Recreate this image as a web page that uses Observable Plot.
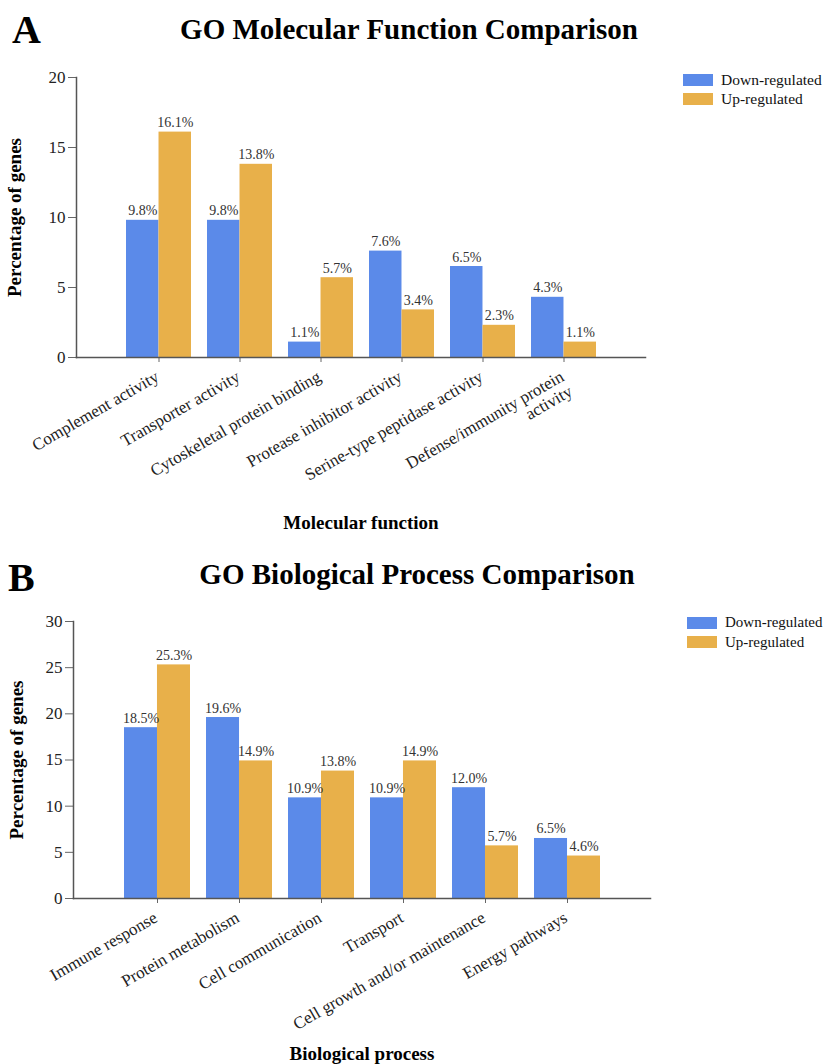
<!DOCTYPE html>
<html><head><meta charset="utf-8">
<script src="https://cdn.jsdelivr.net/npm/d3@7"></script>
<script src="https://cdn.jsdelivr.net/npm/@observablehq/plot@0.6"></script>
<style>
body{margin:0;background:#fff;font-family:"Liberation Serif","Times New Roman",serif;}
#page{position:relative;width:827px;height:1064px;overflow:hidden;background:#fff;}
.letter{position:absolute;font-weight:bold;font-size:40px;line-height:40px;color:#000;}
.title{position:absolute;font-weight:bold;font-size:29px;line-height:29px;color:#000;white-space:nowrap;transform:translateX(-50%);}
.legend{position:absolute;color:#111;white-space:nowrap;}
.legend .row{display:flex;align-items:center;height:19.5px;}
.legend .sw{width:30px;height:12px;margin-right:8px;flex:none;}
.chart{position:absolute;left:0;}
</style>
</head><body>
<div id="page"></div>
<script>
// ---- data ----
const seriesNames = ["Down-regulated", "Up-regulated"];
const seriesColors = ["#5b8ae9", "#e8b04a"];

const catsA = ["Complement activity", "Transporter activity", "Cytoskeletal protein binding", "Protease inhibitor activity", "Serine-type peptidase activity", "Defense/immunity protein activity"];
const tickLabelsA = ["Complement activity", "Transporter activity", "Cytoskeletal protein binding", "Protease inhibitor activity", "Serine-type peptidase activity", "Defense/immunity protein\nactivity"];
const downA = [9.8, 9.8, 1.1, 7.6, 6.5, 4.3];
const upA = [16.1, 13.8, 5.7, 3.4, 2.3, 1.1];
const yTicksA = [0, 5, 10, 15, 20];

const catsB = ["Immune response", "Protein metabolism", "Cell communication", "Transport", "Cell growth and/or maintenance", "Energy pathways"];
const tickLabelsB = ["Immune response", "Protein metabolism", "Cell communication", "Transport", "Cell growth and/or maintenance", "Energy pathways"];
const downB = [18.5, 19.6, 10.9, 10.9, 12.0, 6.5];
const upB = [25.3, 14.9, 13.8, 14.9, 5.7, 4.6];
const yTicksB = [0, 5, 10, 15, 20, 25, 30];

const FONT = '"Liberation Serif","Times New Roman",serif';
const page = document.getElementById("page");

function addDiv(cls, text, style) {
  const d = document.createElement("div");
  d.className = cls;
  if (text != null) d.textContent = text;
  Object.assign(d.style, style);
  page.appendChild(d);
  return d;
}

function legend(left, top, fontSize) {
  const lg = addDiv("legend", null, {left: left + "px", top: top + "px", fontSize: fontSize + "px"});
  seriesNames.forEach((s, i) => {
    const r = document.createElement("div"); r.className = "row";
    const sw = document.createElement("div"); sw.className = "sw"; sw.style.background = seriesColors[i];
    const t = document.createElement("span"); t.textContent = s;
    r.appendChild(sw); r.appendChild(t); lg.appendChild(r);
  });
}

function chart({cats, tickLabels, down, up, yTicks, top, height, ml, mr, mt, mb, xTitle, xTitleDy, yTitleDx}) {
  const W = 827, n = cats.length, pi = 0.2, po = 0.6;
  const step = (W - ml - mr) / (n - pi + 2 * po);
  const half = step * (1 - pi) / 2;
  const rows = cats.map((c, i) => ({cat: c, down: down[i], up: up[i]}));
  const fmt = v => v.toFixed(1) + "%";
  const svg = Plot.plot({
    width: W, height, marginLeft: ml, marginRight: mr, marginTop: mt, marginBottom: mb,
    style: {fontFamily: FONT, fontSize: "17px", color: "#222", background: "transparent", overflow: "visible"},
    x: {domain: cats, paddingInner: pi, paddingOuter: po, label: null},
    y: {domain: [yTicks[0], yTicks[yTicks.length - 1]], label: null},
    marks: [
      Plot.barY(rows, {x: "cat", y: "down", fill: seriesColors[0], insetRight: half}),
      Plot.barY(rows, {x: "cat", y: "up", fill: seriesColors[1], insetLeft: half}),
      Plot.text(rows, {x: "cat", y: "down", text: d => fmt(d.down), dx: -half / 2, dy: -5, lineAnchor: "bottom", fontSize: 14, fill: "#333"}),
      Plot.text(rows, {x: "cat", y: "up", text: d => fmt(d.up), dx: half / 2, dy: -5, lineAnchor: "bottom", fontSize: 14, fill: "#333"}),
      Plot.axisY({ticks: yTicks, tickSize: 8, tickPadding: 3, stroke: "#666", label: null}),
      // tick marks only
      Plot.axisX({tickSize: 5, stroke: "#666", tickFormat: () => "", label: null}),
      // rotated category labels
      Plot.axisX({tickSize: 0, tickPadding: 9, tickRotate: -30, lineAnchor: "top", dx: -5, dy: 3, tickFormat: d => tickLabels[cats.indexOf(d)], label: null}),
      Plot.frame({anchor: "left", stroke: "#555", strokeWidth: 1.5}),
      Plot.frame({anchor: "bottom", stroke: "#555", strokeWidth: 1.5}),
      Plot.text([xTitle], {text: d => d, frameAnchor: "bottom", dy: xTitleDy, lineAnchor: "middle", fontWeight: "bold", fontSize: 19, fill: "#000"}),
      Plot.text(["Percentage of genes"], {text: d => d, frameAnchor: "left", dx: yTitleDx, rotate: -90, textAnchor: "middle", lineAnchor: "middle", fontWeight: "bold", fontSize: 19, fill: "#000"})
    ]
  });
  svg.classList.add("chart");
  svg.style.top = top + "px";
  page.appendChild(svg);
}

// Panel A
addDiv("letter", "A", {left: "12px", top: "10px"});
addDiv("title", "GO Molecular Function Comparison", {left: "409px", top: "15px"});
legend(683, 70, 15.5);
chart({cats: catsA, tickLabels: tickLabelsA, down: downA, up: upA, yTicks: yTicksA,
  top: 55, height: 490, ml: 76, mr: 182, mt: 22, mb: 188,
  xTitle: "Molecular function", xTitleDy: 165, yTitleDx: -62});

// Panel B
addDiv("letter", "B", {left: "8px", top: "558px"});
addDiv("title", "GO Biological Process Comparison", {left: "417px", top: "560px"});
legend(687, 613, 15);
chart({cats: catsB, tickLabels: tickLabelsB, down: downB, up: upB, yTicks: yTicksB,
  top: 600, height: 464, ml: 73, mr: 177, mt: 21, mb: 166,
  xTitle: "Biological process", xTitleDy: 155, yTitleDx: -57});
</script>
</body></html>
